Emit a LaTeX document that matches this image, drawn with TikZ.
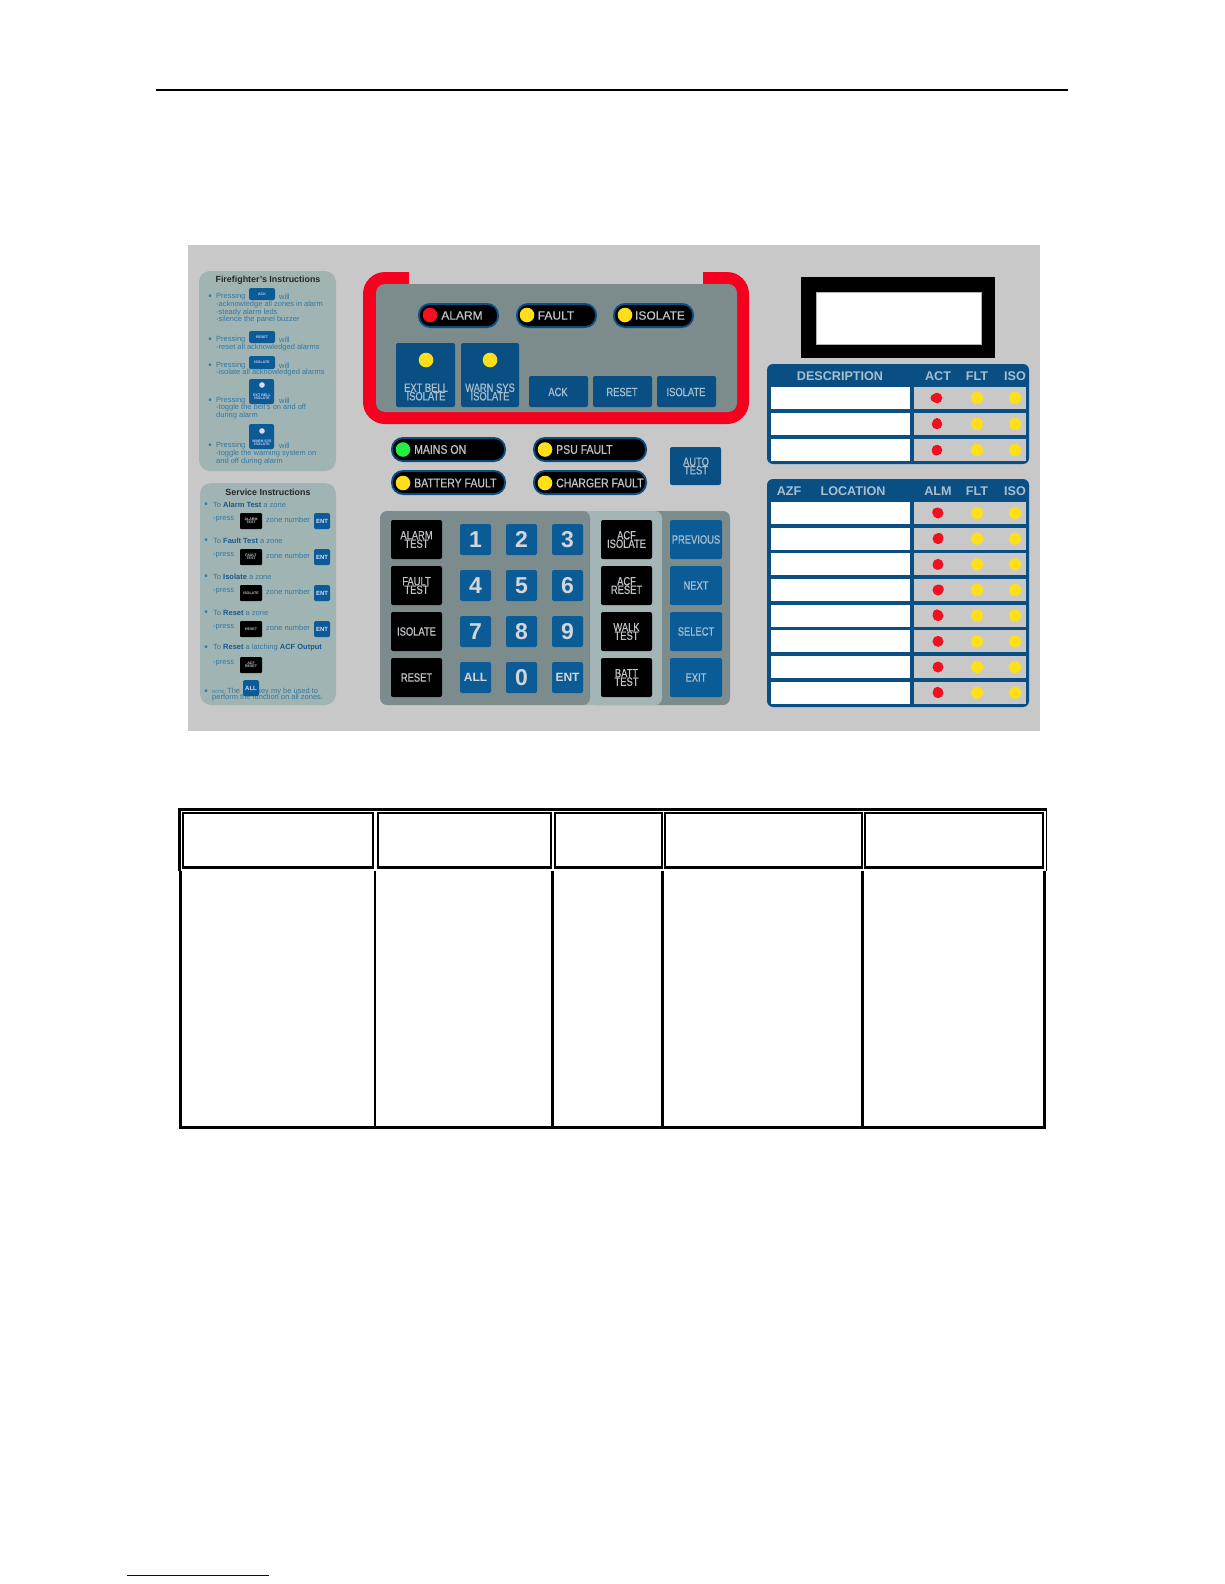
\documentclass[tikz,border=0pt]{standalone}
\usepackage{fontspec}
\setmainfont{Liberation Sans}
\newfontfamily\cond[FakeStretch=0.78,FakeBold=0.6]{Liberation Sans}
\newfontfamily\condb[FakeStretch=0.84,FakeBold=0.6]{Liberation Sans}
\newfontfamily\regb[FakeBold=0.5]{Liberation Sans}
\newcommand{\fs}[1]{\fontsize{#1}{#1}\selectfont}
\definecolor{panelgray}{HTML}{C8C8C8}
\definecolor{innergray}{HTML}{7C8C8C}
\definecolor{lightpanel}{HTML}{A3B5B5}
\definecolor{cardcol}{HTML}{A0B4B4}
\definecolor{blueA}{HTML}{0A4F84}
\definecolor{blueB}{HTML}{0B5C96}
\definecolor{txtlight}{HTML}{A8BFCE}
\definecolor{txtgray}{HTML}{C0C4C8}
\definecolor{smalltxt}{HTML}{35789F}
\definecolor{smallbold}{HTML}{17598C}
\definecolor{ledred}{HTML}{F01020}
\definecolor{ledyellow}{HTML}{FFDF1A}
\definecolor{ledgreen}{HTML}{22EE44}
\definecolor{framered}{HTML}{F5001E}
\tikzset{
  x=1pt,y=-1pt,
  keybox/.style={rounded corners=2pt,draw=none},
  blabel/.style={inner sep=0pt,align=center,text=txtlight,font=\cond\fs{12}},
  klabel/.style={inner sep=0pt,align=center,text=txtgray,font=\cond\fs{12}},
  plabel/.style={inner sep=0pt,anchor=west,text=txtgray,font=\condb\fs{12.5}},
  tlabel/.style={inner sep=0pt,text=txtgray,font=\regb\fs{12}},
  hlabel/.style={inner sep=0pt,text=txtlight,font=\bfseries\fs{12.6}},
  numlabel/.style={inner sep=0pt,text=txtgray!70!white,font=\bfseries\fs{23}},
  small/.style={inner sep=0pt,anchor=west,yshift=-0.7pt,text=smalltxt,font=\fs{7.5}},
  bulletmark/.style={inner sep=0pt,yshift=-0.7pt,text=smalltxt,font=\fs{10}},
  tiny/.style={inner sep=0pt,align=center,text=white!80!blue,font=\bfseries\fs{3.6}},
}
\newcommand{\kbox}[5]{\fill[keybox,#5] (#1,#2) rectangle (#3,#4);}
\newcommand{\pill}[4]{\fill[blueA,rounded corners=12pt] (#1,#3) rectangle (#2,#4);
  \fill[black,rounded corners=10pt] (#1+2,#3+2) rectangle (#2-2,#4-2);}
\newcommand{\led}[4]{\fill[#4] (#1,#2) circle (#3);}
\newcommand{\blackcell}[4]{\fill[black] (#1,#3) rectangle (#2,#4);}
\newcommand{\whitecell}[4]{\fill[white] (#1,#3) rectangle (#2,#4);}
\begin{document}
\begin{tikzpicture}
\useasboundingbox (0,0) rectangle (1224,1584);
\fill[white] (0,0) rectangle (1224,1584);
\fill[black] (156,89) rectangle (1068,91);
\fill[blue!60!black] (127,1574.5) rectangle (269,1575.7);
% main panel
\fill[panelgray] (188,245) rectangle (1039.5,731);
% ---------- firefighter card
\fill[cardcol,rounded corners=11pt] (199,271) rectangle (336,471);
\node[inner sep=0pt,font=\bfseries\fs{8.9},text=black!85] (fftitle) at (268,280) {Firefighter's Instructions};
\foreach \y/\t in {296/Pressing,339/Pressing,365/Pressing,400/Pressing,445/Pressing}{
  \node[bulletmark] at (210,\y) {•};
  \node[small] at (216,\y) {\t};
  \node[small] at (279,\y) {will};
}
\foreach \y/\t in {304/-acknowledge all zones in alarm,312/-steady alarm leds,319/-silence the panel buzzer,347/-reset all acknowledged alarms,372/-isolate all acknowledged alarms,407/-toggle the bell's on and off,415/during alarm,453/-toggle the warning system on,461/and off during alarm}{
  \node[small] at (216,\y) {\t};
}
\kbox{249}{288}{275}{300}{blueB}
\node[tiny] at (262,294) {ACK};
\kbox{249}{331}{275}{343}{blueB}
\node[tiny] at (262,337) {RESET};
\kbox{249}{356}{275}{369}{blueB}
\node[tiny] at (262,362) {ISOLATE};
\kbox{249}{379}{274}{404}{blueB}
\led{262}{385}{2.8}{white!85!blue}
\node[tiny] at (262,397) {EXT BELL\\[-1pt]ISOLATE};
\kbox{249}{424}{274}{449}{blueB}
\led{262}{431}{2.8}{white!85!blue}
\node[tiny] at (262,443) {WARN SYS\\[-1pt]ISOLATE};
% ---------- service card
\fill[cardcol,rounded corners=11pt] (200,483) rectangle (336,705);
\node[inner sep=0pt,font=\bfseries\fs{8.9},text=black!85] (svctitle) at (268,492) {Service Instructions};
\foreach \y/\a/\b/\c in {504/Alarm Test/ a zone/,540/Fault Test/ a zone/,576/Isolate/ a zone/,612/Reset/ a zone/}{
  \node[bulletmark] at (206,\y) {•};
  \node[small] at (213,\y) {To {\bfseries\color{smallbold}\a}\b};
}
\node[bulletmark] at (206,647) {•};
\node[small] at (213,647) {To {\bfseries\color{smallbold}Reset} a latching {\bfseries\color{smallbold}ACF Output}};
\foreach \y/\t in {521/ALARM\\[-1pt]TEST,557/FAULT\\[-1pt]TEST,593/ISOLATE,629/RESET}{
  \node[small] at (213,\y-2) {-press};
  \fill[black,rounded corners=1pt] (240,\y-8) rectangle (262,\y+8);
  \node[tiny,text=txtgray] at (251,\y) {\t};
  \node[small] at (266,\y-2) {zone number};
  \fill[blueB,rounded corners=1.5pt] (314,\y-8) rectangle (330,\y+8);
  \node[inner sep=0pt,text=white!85!blue,font=\bfseries\fs{6}] at (322,\y) {ENT};
}
\node[small] at (213,663) {-press};
\fill[black,rounded corners=1pt] (240,657) rectangle (262,673);
\node[tiny,text=txtgray] at (251,665) {ACF\\[-1pt]RESET};
\node[bulletmark] at (206,691) {•};
\node[small] at (212,691) {\fs{4.5}NOTE:\ \fs{7.5}The \hspace{13pt} key my be used to};
\node[small] at (212,697) {perform the function on all zones.};
\fill[blueB,rounded corners=1.5pt] (243,680) rectangle (259,696);
\node[inner sep=0pt,text=white!85!blue,font=\bfseries\fs{6}] at (251,688) {ALL};
% ---------- red frame
\fill[framered,rounded corners=22pt] (363,272) rectangle (749,424);
\fill[panelgray] (409,270) rectangle (703,284.5);
\fill[innergray,rounded corners=9pt] (376,284) rectangle (737,412);
\pill{418}{499}{303}{328}
\pill{516}{597}{303}{328}
\pill{613}{694}{303}{328}
\led{430}{315}{7.3}{ledred}
\led{527}{315}{7.3}{ledyellow}
\led{625}{315}{7.3}{ledyellow}
\node[tlabel] at (462,315.5) {ALARM};
\node[tlabel] at (556,315.5) {FAULT};
\node[tlabel] at (660,315.5) {ISOLATE};
\kbox{396}{343}{455}{407}{blueA}
\kbox{461}{343}{519}{407}{blueA}
\kbox{529}{376}{588}{407}{blueA}
\kbox{593}{376}{652}{407}{blueA}
\kbox{657}{376}{716}{407}{blueA}
\led{426}{360}{7.3}{ledyellow}
\led{490}{360}{7.3}{ledyellow}
\node[blabel] at (426,392) {EXT BELL\\[-3.5pt]ISOLATE};
\node[blabel] at (490,392) {WARN SYS\\[-3.5pt]ISOLATE};
\node[blabel] at (558,392) {ACK};
\node[blabel] at (622,392) {RESET};
\node[blabel] at (686,392) {ISOLATE};
% ---------- status pills
\pill{391}{506}{437}{462}
\pill{391}{506}{470}{495}
\pill{533}{647}{437}{462}
\pill{533}{647}{470}{495}
\led{403}{449.5}{7.3}{ledgreen}
\led{403}{483}{7.3}{ledyellow}
\led{545}{449.5}{7.3}{ledyellow}
\led{545}{483}{7.3}{ledyellow}
\node[plabel] at (414,449.5) {MAINS ON};
\node[plabel] at (414,483) {BATTERY FAULT};
\node[plabel] at (556,449.5) {PSU FAULT};
\node[plabel] at (556,483) {CHARGER FAULT};
\kbox{670}{447}{721}{485}{blueA}
\node[blabel] at (696,466) {AUTO\\[-3.5pt]TEST};
% ---------- keypad
\fill[innergray,rounded corners=7pt] (590,511) rectangle (730,705);
\fill[lightpanel,rounded corners=7pt] (575,511) rectangle (662,705);
\fill[innergray,rounded corners=7pt] (380,511) rectangle (590,705);
\foreach \ya/\yb/\t in {520/559/ALARM\\[-3.5pt]TEST,566/605/FAULT\\[-3.5pt]TEST,612/651/ISOLATE,658/697/RESET}{
  \fill[keybox,black] (391,\ya) rectangle (442,\yb);
  \node[klabel] at (416.5,{(\ya+\yb)/2}) {\t};
}
\foreach \ya/\yb/\t in {520/559/ACF\\[-3.5pt]ISOLATE,566/605/ACF\\[-3.5pt]RESET,612/651/WALK\\[-3.5pt]TEST,658/697/BATT\\[-3.5pt]TEST}{
  \fill[keybox,black] (601,\ya) rectangle (652,\yb);
  \node[klabel] at (626.5,{(\ya+\yb)/2}) {\t};
}
\foreach \ya/\yb/\t in {520/559/PREVIOUS,566/605/NEXT,612/651/SELECT,658/697/EXIT}{
  \fill[keybox,blueB] (670,\ya) rectangle (722,\yb);
  \node[blabel] at (696,{(\ya+\yb)/2}) {\t};
}
\foreach \xa/\ya/\t in {460/524/1,506/524/2,552/524/3,460/570/4,506/570/5,552/570/6,460/616/7,506/616/8,552/616/9,506/662/0}{
  \fill[keybox,blueB] (\xa,\ya) rectangle (\xa+31,\ya+31);
  \node[numlabel] at (\xa+15.5,\ya+15.5) {\t};
}
\foreach \xa/\t in {460/ALL,552/ENT}{
  \fill[keybox,blueB] (\xa,662) rectangle (\xa+31,693);
  \node[inner sep=0pt,text=txtgray!70!white,font=\bfseries\fs{12}] at (\xa+15.5,677.5) {\t};
}
% ---------- display
\fill[black] (801,277) rectangle (995,358);
\fill[white] (816,292) rectangle (981,344);
\draw[gray!60,line width=.8pt] (816,292) rectangle (981,344);
% ---------- description table
\fill[blueA,rounded corners=6pt] (767,364) rectangle (1029,464);
\node[hlabel] at (840,376) {DESCRIPTION};
\node[hlabel] at (938,376) {ACT};
\node[hlabel] at (977,376) {FLT};
\node[hlabel] at (1015,376) {ISO};
\foreach \y/\dx/\dy in {387/-2.5/0,413/0/-2,439/-1/1.5}{
  \fill[white] (771,\y) rectangle (910,\y+22);
  \fill[panelgray] (914,\y) rectangle (1026,\y+22);
  \led{937}{\y+11}{5.3}{ledred}
  \led{937+\dx}{\y+11+\dy}{4}{ledred}
  \led{977}{\y+11}{6.1}{ledyellow}
  \led{1015}{\y+11}{6.1}{ledyellow}
}
% ---------- location table
\fill[blueA,rounded corners=6pt] (767,479) rectangle (1029,707);
\node[hlabel] at (789,491) {AZF};
\node[hlabel] at (853,491) {LOCATION};
\node[hlabel] at (938,491) {ALM};
\node[hlabel] at (977,491) {FLT};
\node[hlabel] at (1015,491) {ISO};
\foreach \i/\dx/\dy in {0/-1.5/-1,1/1/-1.5,2/-1/1,3/1.5/-1,4/-1/-2,5/.5/0,6/0/-.5,7/-.5/-1.5}{
  \pgfmathsetmacro{\y}{502+25.67*\i}
  \fill[white] (771,\y) rectangle (910,\y+22);
  \fill[panelgray] (914,\y) rectangle (1026,\y+22);
  \led{938}{\y+11}{5.5}{ledred}
  \led{938+\dx}{\y+11+\dy}{4.3}{ledred}
  \led{977}{\y+11}{6.1}{ledyellow}
  \led{1015}{\y+11}{6.1}{ledyellow}
}
% ---------- empty table
\fill[black] (178,808) rectangle (1047,811);
\fill[black] (178,808) rectangle (181,870.5);
\fill[black] (1046.2,808) rectangle (1047,870.5);
\blackcell{182}{374}{812}{869}
\whitecell{183.5}{372}{814}{866}
\blackcell{377}{552}{812}{869}
\whitecell{378.5}{550}{814}{866}
\blackcell{554}{663}{812}{869}
\whitecell{555.5}{661}{814}{866}
\blackcell{664}{863}{812}{869}
\whitecell{665.5}{861}{814}{866}
\blackcell{864}{1044}{812}{869}
\whitecell{865.5}{1042}{814}{866}
\fill[black] (179,871) rectangle (182,1129);
\fill[black] (374,871) rectangle (376,1129);
\fill[black] (551,871) rectangle (554,1129);
\fill[black] (661,871) rectangle (664,1129);
\fill[black] (861,871) rectangle (864,1129);
\fill[black] (1043,871) rectangle (1046,1129);
\fill[black] (179,1126) rectangle (1046,1129);
\end{tikzpicture}
\end{document}
